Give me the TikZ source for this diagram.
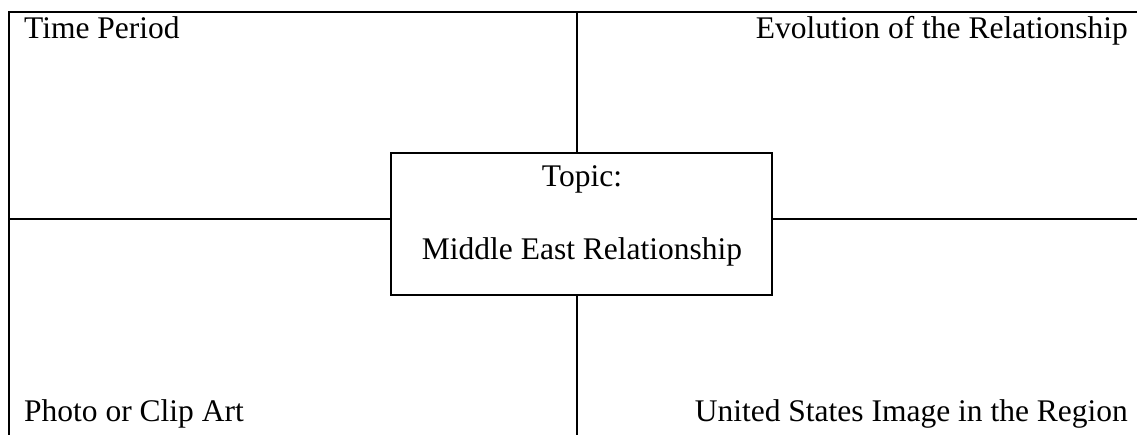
\documentclass[tikz,border=0pt]{standalone}
\usepackage{fontspec}
\setmainfont{Liberation Serif}
\begin{document}
\begin{tikzpicture}[x=1pt,y=-1pt,
  frame/.style={line width=2.2pt, line cap=rect},
  lbl/.style={inner sep=0pt, font=\fontsize{31.5}{36}\selectfont, anchor=base west},
  lblr/.style={lbl, anchor=base east},
  lblc/.style={lbl, anchor=base},
  topicbox/.style={draw, line width=1.6pt, minimum width=381pt, minimum height=142pt, inner sep=0pt}]
\useasboundingbox (0,0) rectangle (1137,435);
\node[topicbox] (topic) at (581.5,224) {};
\coordinate (tl) at (9,12);
\coordinate (tr) at (1137,12);
\coordinate (bl) at (9,435);
\coordinate (tm) at (577,12);
\coordinate (bm) at (577,435);
\coordinate (ml) at (9,219);
\coordinate (mr) at (1137,219);
\draw[frame] (tr) -- (tl) -- (bl);
\draw[frame] (tm) -- (tm |- topic.north);
\draw[frame] (topic.south -| bm) -- (bm);
\draw[frame] (ml) -- (ml -| topic.west);
\draw[frame] (mr -| topic.east) -- (mr);
\node[lbl] (time) at (24,39) {Time Period};
\node[lblr] (evol) at (1128,39) {Evolution of the Relationship};
\node[lbl] (photo) at (24,421) {Photo or Clip Art};
\node[lblr] (us) at (1128,421) {United States Image in the Region};
\node[lblc] (topicl) at (582,187) {Topic:};
\node[lblc] (mer) at (582,260) {Middle East Relationship};
\end{tikzpicture}
\end{document}
